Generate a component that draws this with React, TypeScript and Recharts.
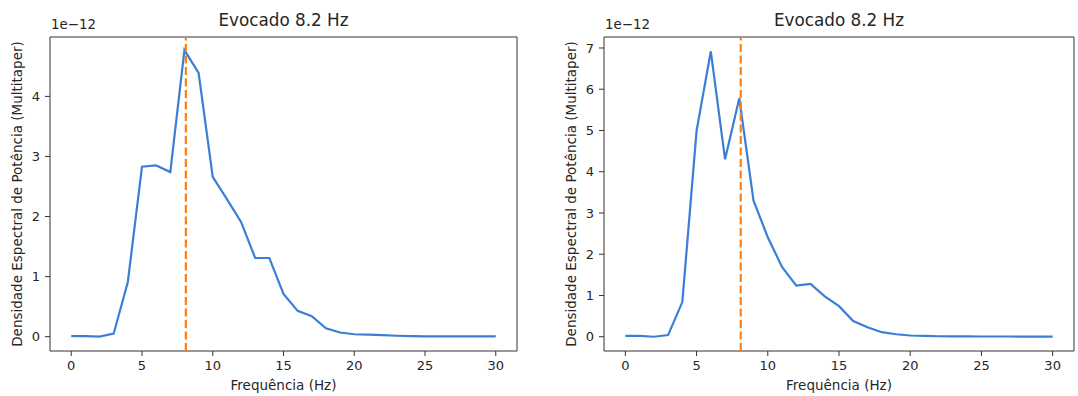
import React from 'react';
import { LineChart, Line, XAxis, YAxis, ReferenceLine, ReferenceArea } from 'recharts';

const freqs = [0, 1, 2, 3, 4, 5, 6, 7, 8, 9, 10, 11, 12, 13, 14, 15, 16, 17, 18, 19, 20, 21, 22, 23, 24, 25, 26, 27, 28, 29, 30];
const leftPsd = [0.01, 0.01, 0.0, 0.05, 0.91, 2.83, 2.85, 2.74, 4.77, 4.39, 2.66, 2.29, 1.91, 1.31, 1.31, 0.71, 0.43, 0.34, 0.14, 0.07, 0.04, 0.035, 0.025, 0.015, 0.01, 0.006, 0.005, 0.005, 0.004, 0.004, 0.004];
const rightPsd = [0.02, 0.02, 0.0, 0.04, 0.84, 4.99, 6.92, 4.3, 5.78, 3.3, 2.41, 1.69, 1.24, 1.28, 0.98, 0.74, 0.38, 0.23, 0.11, 0.06, 0.03, 0.02, 0.012, 0.01, 0.008, 0.006, 0.005, 0.005, 0.004, 0.004, 0.004];
const xTicks = [0, 5, 10, 15, 20, 25, 30];
const leftYTicks = [0, 1, 2, 3, 4];
const rightYTicks = [0, 1, 2, 3, 4, 5, 6, 7];
const peakFreq = 8.1;
const titleText = 'Evocado 8.2 Hz';
const xLabelText = 'Frequência (Hz)';
const yLabelText = 'Densidade Espectral de Potência (Multitaper)';
const scaleText = '1e\u221212';

const FONT = "'DejaVu Sans', sans-serif";
const TXT = '#262626';

const leftData = freqs.map((f, i) => ({ f, v: leftPsd[i] }));
const rightData = freqs.map((f, i) => ({ f, v: rightPsd[i] }));

type PanelProps = {
  data: { f: number; v: number }[];
  yDomain: [number, number];
  yTicks: number[];
  width: number;
  yAxisWidth: number;
  rightMargin: number;
  left: number;
};

const HEIGHT = 396;
const TOP = 37;
const XAXIS_H = 45;

function Panel({ data, yDomain, yTicks, width, yAxisWidth, rightMargin, left }: PanelProps) {
  const plotW = width - yAxisWidth - rightMargin;
  return (
    <div style={{ position: 'absolute', left, top: 0, width, height: HEIGHT }}>
      <LineChart width={width} height={HEIGHT} data={data} margin={{ top: TOP, right: rightMargin, bottom: 0, left: 0 }}>
        <XAxis
          dataKey="f"
          type="number"
          domain={[-1.5, 31.5]}
          ticks={xTicks}
          allowDataOverflow
          height={XAXIS_H}
          axisLine={false}
          tickLine={{ stroke: '#333', strokeWidth: 1 }}
          tickSize={5}
          tickMargin={5}
          tick={{ fill: TXT, fontSize: 13, fontFamily: FONT }}
          label={{
            content: (p: any) => {
              const vb = p.viewBox;
              return (
                <text x={vb.x + vb.width / 2} y={vb.y + 39} textAnchor="middle" fill={TXT} fontSize={13.5} fontFamily={FONT}>
                  {xLabelText}
                </text>
              );
            },
          }}
        />
        <YAxis
          type="number"
          domain={yDomain}
          ticks={yTicks}
          allowDataOverflow
          width={yAxisWidth}
          axisLine={false}
          tickLine={{ stroke: '#333', strokeWidth: 1 }}
          tickSize={5}
          tickMargin={5}
          tick={{ fill: TXT, fontSize: 13, fontFamily: FONT }}
          label={{
            content: (p: any) => {
              const vb = p.viewBox;
              const cx = vb.x + vb.width - 33.5;
              const cy = vb.y + vb.height / 2;
              return (
                <text
                  x={cx}
                  y={cy}
                  transform={`rotate(-90 ${cx} ${cy})`}
                  textAnchor="middle"
                  dominantBaseline="central"
                  fill={TXT}
                  fontSize={13.5}
                  fontFamily={FONT}
                >
                  {yLabelText}
                </text>
              );
            },
          }}
        />
        <Line type="linear" dataKey="v" stroke="#3a7fd5" strokeWidth={2.2} dot={false} isAnimationActive={false} />
        <ReferenceLine x={peakFreq} stroke="#ff7f0e" strokeWidth={2.2} strokeDasharray="8 3.5" ifOverflow="visible" />
        <ReferenceArea
          x1={-1.5}
          x2={31.5}
          y1={yDomain[0]}
          y2={yDomain[1]}
          fill="none"
          fillOpacity={0}
          stroke="#333"
          strokeWidth={1}
          ifOverflow="visible"
        />
      </LineChart>
      <div
        style={{
          position: 'absolute',
          left: yAxisWidth,
          width: plotW,
          top: 10,
          textAlign: 'center',
          fontFamily: FONT,
          fontSize: 16.8,
          color: TXT,
          lineHeight: '20px',
          whiteSpace: 'nowrap',
        }}
      >
        {titleText}
      </div>
      <div
        style={{
          position: 'absolute',
          left: yAxisWidth + 1,
          top: 17,
          fontFamily: FONT,
          fontSize: 13.4,
          color: TXT,
          lineHeight: '16px',
          whiteSpace: 'nowrap',
        }}
      >
        {scaleText}
      </div>
    </div>
  );
}

export default function App() {
  return (
    <div style={{ position: 'absolute', left: 0, top: 0, width: 1078, height: HEIGHT, background: '#fff', overflow: 'hidden' }}>
      <Panel data={leftData} yDomain={[-0.2385, 4.9885]} yTicks={leftYTicks} width={540} yAxisWidth={50} rightMargin={23} left={0} />
      <Panel data={rightData} yDomain={[-0.346, 7.266]} yTicks={rightYTicks} width={538} yAxisWidth={64} rightMargin={4} left={540} />
    </div>
  );
}
